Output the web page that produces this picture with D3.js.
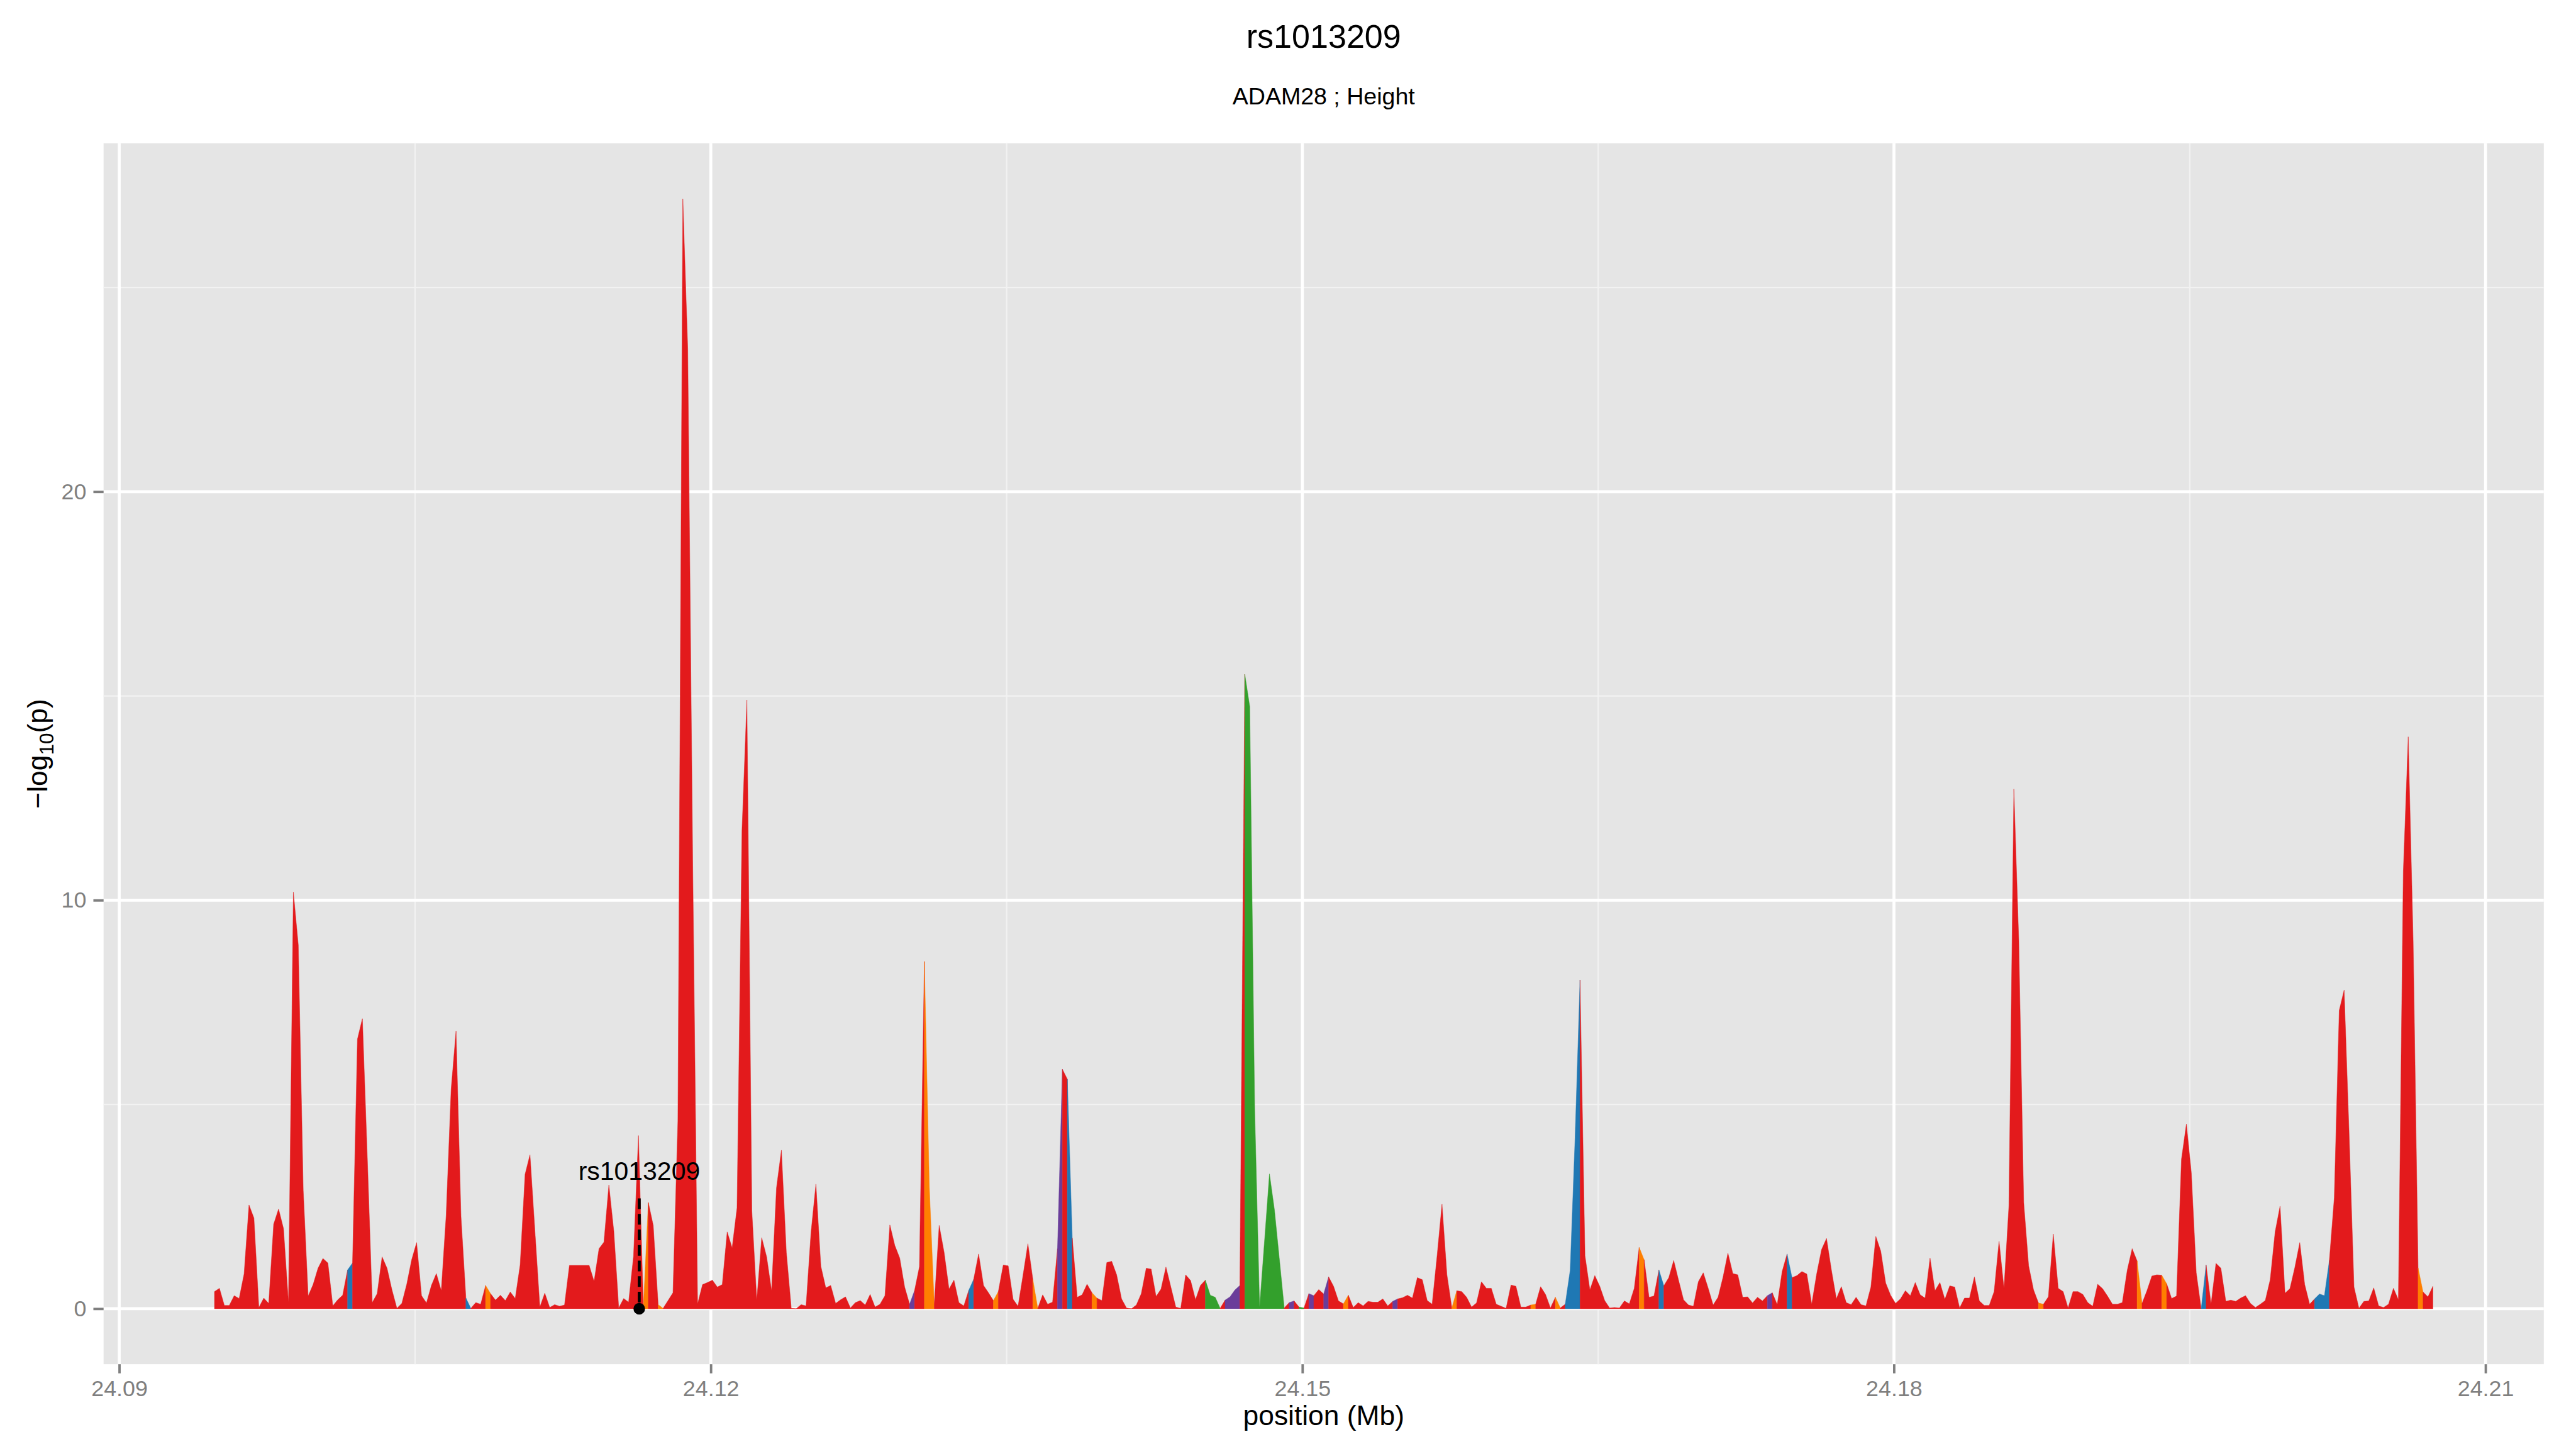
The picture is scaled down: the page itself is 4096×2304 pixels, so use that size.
<!DOCTYPE html>
<html><head><meta charset="utf-8">
<script src="https://cdn.jsdelivr.net/npm/d3@7"></script>
<style>html,body{margin:0;padding:0;background:#fff;overflow:hidden}</style>
</head><body>
<svg id="chart" width="4096" height="2304" viewBox="0 0 4800 2700"></svg>
<script>
// ---------------- data ----------------
const titleText = "rs1013209";
const subtitleText = "ADAM28 ; Height";
const xTitle = "position (Mb)";
const binStartMb = 24.09483;   // first bin position (Mb)
const binSizeMb = 0.00025;     // 250 bp bins
const logP = [
0.42,0.50,0.08,0.08,0.32,0.25,0.85,2.54,2.22,0.03,
0.26,0.13,2.07,2.44,1.96,0.15,10.2,8.9,2.9,0.31,
0.59,0.99,1.23,1.12,0.07,0.22,0.33,0.95,1.12,6.6,
7.1,3.7,0.15,0.37,1.27,0.99,0.46,0.01,0.13,0.60,
1.20,1.62,0.32,0.14,0.57,0.86,0.44,2.30,5.37,6.8,
2.26,0.26,0.01,0.15,0.11,0.57,0.37,0.21,0.33,0.20,
0.41,0.25,1.07,3.29,3.77,1.9,0.04,0.38,0.03,0.10,
0.06,0.09,1.06,1.06,1.06,1.06,1.06,0.67,1.47,1.63,
3.03,1.9,0.02,0.25,0.16,1.28,4.24,0.03,2.6,2.04,
0.1,0.01,0.2,0.39,4.6,27.17,23.5,11.0,0.12,0.59,
0.64,0.70,0.53,0.59,1.88,1.49,2.47,11.7,14.9,2.4,
0.2,1.74,1.27,0.44,2.96,3.88,1.38,0.01,0,0.10,
0.07,1.86,3.05,1.04,0.51,0.57,0.13,0.22,0.29,0.02,
0.15,0.20,0.09,0.35,0.04,0.11,0.32,2.05,1.55,1.24,
0.53,0.11,0.44,1.03,8.5,3.0,0.1,2.04,1.38,0.48,
0.70,0.15,0.07,0.45,0.72,1.34,0.57,0.39,0.20,0.42,
1.07,1.05,0.23,0.06,0.81,1.59,0.72,0.01,0.34,0.11,
0.16,1.47,5.86,5.62,1.73,0.28,0.34,0.60,0.39,0.26,
0.20,1.13,1.16,0.83,0.24,0.02,0,0.09,0.37,0.99,
0.97,0.30,0.48,1.02,0.53,0.04,0.01,0.83,0.69,0.22,
0.57,0.70,0.33,0.28,0.01,0.21,0.29,0.46,0.57,15.53,
14.74,4.9,0.04,1.66,3.30,2.43,1.23,0.02,0.15,0.19,
0.04,0.02,0.37,0.32,0.47,0.36,0.78,0.55,0.19,0.12,
0.33,0.03,0.15,0.07,0.18,0.16,0.16,0.24,0.07,0.18,
0.24,0.27,0.33,0.26,0.76,0.71,0.20,0.11,1.29,2.56,
0.83,0.02,0.44,0.42,0.28,0.04,0.14,0.66,0.50,0.50,
0.11,0.06,0.01,0.58,0.55,0.04,0.04,0.09,0.11,0.54,
0.35,0.02,0.28,0.02,0.11,0.94,4.2,8.05,1.3,0.46,
0.81,0.55,0.20,0.02,0.03,0.02,0.19,0.12,0.50,1.50,
1.20,0.28,0.31,0.95,0.56,0.76,1.18,0.69,0.22,0.09,
0.06,0.66,0.88,0.5,0.09,0.28,0.77,1.36,0.86,0.83,
0.28,0.29,0.14,0.28,0.19,0.32,0.39,0.10,0.91,1.34,
0.76,0.81,0.91,0.85,0.11,0.85,1.45,1.72,0.94,0.24,
0.54,0.15,0.10,0.28,0.10,0.07,0.53,1.77,1.41,0.63,
0.33,0.13,0.24,0.44,0.32,0.64,0.34,0.26,1.24,0.44,
0.64,0.23,0.56,0.53,0.02,0.26,0.26,0.78,0.19,0.08,
0.08,0.42,1.65,0.49,2.52,12.72,9.0,2.6,1.05,0.46,
0.14,0.11,0.29,1.83,0.50,0.42,0.02,0.42,0.42,0.35,
0.15,0.06,0.60,0.49,0.31,0.11,0.11,0.15,0.94,1.47,
1.17,0.13,0.44,0.80,0.83,0.82,0.61,0.25,0.31,3.66,
4.52,3.33,0.88,0,1.07,0.11,1.11,0.99,0.18,0.21,
0.18,0.26,0.32,0.13,0.03,0.11,0.20,0.71,1.88,2.51,
0.38,0.49,1.01,1.62,0.59,0.11,0.24,0.36,0.32,1.18,
2.72,7.3,7.8,4.3,0.53,0.01,0.18,0.19,0.51,0.07,
0.03,0.11,0.50,0.22,10.7,14.0,9.0,1.0,0.41,0.29,
0.55
];
// annotation class of each bin-to-bin segment; default class "r"
const defaultClass = "r";
const segmentClassList = [
[27,"b"],[51,"b"],[55,"o"],[87,"o"],[90,"o"],[141,"p"],[144,"o"],[145,"o"],
[153,"b"],[158,"o"],[166,"o"],[171,"p"],[173,"b"],[178,"o"],
[201,"g"],[202,"g"],[203,"g"],[205,"p"],[206,"p"],[207,"p"],
[209,"g"],[210,"g"],[211,"g"],[212,"g"],[213,"g"],[214,"g"],[215,"g"],[216,"g"],
[218,"p"],[220,"g"],[222,"p"],[225,"p"],[229,"o"],[239,"p"],[251,"o"],[267,"o"],
[272,"o"],[274,"b"],[275,"b"],[276,"b"],[289,"o"],[293,"b"],[315,"p"],[319,"b"],
[370,"o"],[390,"o"],[395,"o"],[403,"b"],[426,"b"],[427,"b"],[428,"b"],[447,"o"]
];
const classColors = {r:"#E31A1C", b:"#1F78B4", g:"#33A02C", p:"#6A3D9A", o:"#FF7F00"};
const xTicks = [24.09, 24.12, 24.15, 24.18, 24.21];
const xMinorTicks = [24.105, 24.135, 24.165, 24.195];
const yTicks = [0, 10, 20];
const yMinorTicks = [5, 15, 25];
const snpName = "rs1013209";
const snpPosMb = 24.11637;
const snpLineTop = 2.7;
const snpLabelY = 3.16;

// ---------------- layout ----------------
const panel = {left:193, right:4740, top:267, bottom:2542};
const FONT = "'Liberation Sans', Arial, Helvetica, sans-serif";
const svg = d3.select("#chart");

const positions = logP.map((_, i) => binStartMb + i * binSizeMb);
const pts = positions.map((p, i) => ({x: p, y: logP[i]}));

const xExt = d3.extent(positions), xPad = (xExt[1]-xExt[0])*0.05;
const yExt = [0, d3.max(logP)], yPad = (yExt[1]-yExt[0])*0.05;
const x = d3.scaleLinear().domain([xExt[0]-xPad, xExt[1]+xPad]).range([panel.left, panel.right]);
const y = d3.scaleLinear().domain([yExt[0]-yPad, yExt[1]+yPad]).range([panel.bottom, panel.top]);

svg.append("rect").attr("x",0).attr("y",0).attr("width",4800).attr("height",2700).attr("fill","#fff");
svg.append("rect").attr("x",panel.left).attr("y",panel.top)
  .attr("width",panel.right-panel.left).attr("height",panel.bottom-panel.top).attr("fill","#E5E5E5");

svg.append("defs").append("clipPath").attr("id","clip").append("rect")
  .attr("x",panel.left).attr("y",panel.top).attr("width",panel.right-panel.left).attr("height",panel.bottom-panel.top);

const grid = svg.append("g");
grid.selectAll(".xminor").data(xMinorTicks).join("line")
  .attr("x1",d=>x(d)).attr("x2",d=>x(d)).attr("y1",panel.top).attr("y2",panel.bottom)
  .attr("stroke","#F2F2F2").attr("stroke-width",2.7);
grid.selectAll(".yminor").data(yMinorTicks).join("line")
  .attr("y1",d=>y(d)).attr("y2",d=>y(d)).attr("x1",panel.left).attr("x2",panel.right)
  .attr("stroke","#F2F2F2").attr("stroke-width",2.7);
grid.selectAll(".xmajor").data(xTicks).join("line")
  .attr("x1",d=>x(d)).attr("x2",d=>x(d)).attr("y1",panel.top).attr("y2",panel.bottom)
  .attr("stroke","#FFFFFF").attr("stroke-width",5.5);
grid.selectAll(".ymajor").data(yTicks).join("line")
  .attr("y1",d=>y(d)).attr("y2",d=>y(d)).attr("x1",panel.left).attr("x2",panel.right)
  .attr("stroke","#FFFFFF").attr("stroke-width",5.5);

// segment classes -> runs
const segClass = d3.range(pts.length-1).map(() => defaultClass);
segmentClassList.forEach(([i,c]) => { segClass[i] = c; });
const runs = [];
segClass.forEach((c, i) => {
  const last = runs[runs.length-1];
  if (last && last.cls === c && last.end === i) last.end = i+1;
  else runs.push({cls:c, start:i, end:i+1});
});

const area = d3.area().x(d=>x(d.x)).y0(y(0)).y1(d=>y(d.y)).curve(d3.curveLinear);
svg.append("g").attr("clip-path","url(#clip)")
  .selectAll("path").data(runs).join("path")
  .attr("d", r => area(pts.slice(r.start, r.end+1)))
  .attr("fill", r => classColors[r.cls])
  .attr("stroke", r => classColors[r.cls]).attr("stroke-width",0.6).attr("stroke-linejoin","miter");

// snp annotation
const ann = svg.append("g");
ann.append("line").attr("x1",x(snpPosMb)).attr("x2",x(snpPosMb))
  .attr("y1",y(snpLineTop)).attr("y2",y(0))
  .attr("stroke","#000").attr("stroke-width",5.5).attr("stroke-dasharray","20 9");
ann.append("circle").attr("cx",x(snpPosMb)).attr("cy",y(0)).attr("r",10.8).attr("fill","#000");
ann.append("text").attr("x",x(snpPosMb)).attr("y",y(snpLabelY))
  .attr("text-anchor","middle").attr("font-family",FONT).attr("font-size",48).attr("fill","#000")
  .text(snpName);

// axes
const xAxis = d3.axisBottom(x).tickValues(xTicks).tickSize(17).tickPadding(13).tickFormat(d3.format(".2f"));
const gx = svg.append("g").attr("transform",`translate(0,${panel.bottom})`).call(xAxis);
const yAxis = d3.axisLeft(y).tickValues(yTicks).tickSize(19).tickPadding(13).tickFormat(d3.format("d"));
const gy = svg.append("g").attr("transform",`translate(${panel.left},0)`).call(yAxis);
[gx, gy].forEach(g => {
  g.select(".domain").remove();
  g.selectAll(".tick line").attr("stroke","#7F7F7F").attr("stroke-width",4.5);
  g.selectAll(".tick text").attr("fill","#7F7F7F").attr("font-family",FONT).attr("font-size",42);
});

// titles
const cx = (panel.left+panel.right)/2;
svg.append("text").attr("x",cx).attr("y",89).attr("text-anchor","middle")
  .attr("font-family",FONT).attr("font-size",61).attr("fill","#000").text(titleText);
svg.append("text").attr("x",cx).attr("y",194).attr("text-anchor","middle")
  .attr("font-family",FONT).attr("font-size",44).attr("fill","#000").text(subtitleText);
svg.append("text").attr("x",cx).attr("y",2655).attr("text-anchor","middle")
  .attr("font-family",FONT).attr("font-size",52).attr("fill","#000").text(xTitle);
const yt = svg.append("text").attr("transform",`translate(88,${(panel.top+panel.bottom)/2}) rotate(-90)`)
  .attr("text-anchor","middle").attr("font-family",FONT).attr("font-size",52).attr("fill","#000");
yt.append("tspan").text("\u2212log");
yt.append("tspan").attr("font-size",37).attr("dy",12).text("10");
yt.append("tspan").attr("dy",-12).text("(p)");
</script>
</body></html>
